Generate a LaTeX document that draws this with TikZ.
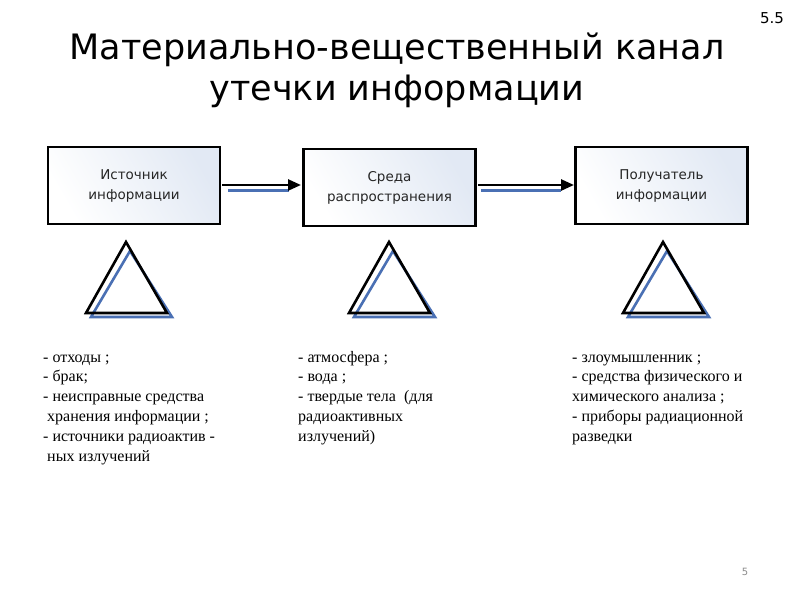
\documentclass[tikz,border=0pt]{standalone}
\usepackage{fontspec}
\setmainfont{Liberation Serif}
\newfontfamily\titlefont{DejaVu Sans}
\newfontfamily\boxfont{DejaVu Sans}
\usetikzlibrary{arrows.meta}
\definecolor{tblue}{HTML}{4A70B4}
\definecolor{lblue}{HTML}{E2E9F4}
\tikzset{
  box/.style={draw=black, line width=2.8pt, minimum width=172pt, minimum height=77pt,
    left color=white, right color=lblue, shading angle=120,
    font=\boxfont\fontsize{13.5}{20}\selectfont, align=center, text=black!85},
  arr/.style={line width=2.6pt, -{Triangle[length=13pt,width=11pt]}},
  barr/.style={line width=2.6pt, draw=tblue},
  tri/.style={line width=2.6pt, line join=miter},
  btri/.style={line width=2.6pt, draw=tblue, line join=miter},
  lst/.style={anchor=north west, align=left, font=\fontsize{16}{19.8}\selectfont, inner sep=0pt}
}
\begin{document}
\begin{tikzpicture}[x=1pt,y=-1pt]
\useasboundingbox (0,0) rectangle (800,600);
\fill[white] (0,0) rectangle (800,600);
% title
\node[font=\titlefont\fontsize{35}{41}\selectfont, align=center] (title) at (397,70)
  {Материально-вещественный канал\\утечки информации};
\node[font=\titlefont\fontsize{15}{18}\selectfont] (num) at (772,18) {5.5};
\node[font=\titlefont\fontsize{10}{12}\selectfont, text=black!45] (pg) at (745,572) {5};
% boxes
\node[box] (src) at (134,185.5) {Источник\\информации};
\node[box] (mid) at (389.5,187.5) {Среда\\распространения};
\node[box] (dst) at (661.5,185.5) {Получатель\\информации};
% arrows
\coordinate (a1) at (222,185);
\coordinate (a2) at (301,185);
\coordinate (b1) at (228,190.5);
\coordinate (b2) at (289,190.5);
\draw[barr] (b1) -- (b2);
\draw[arr] (a1) -- (a2);
\coordinate (a3) at (478,185);
\coordinate (a4) at (574,185);
\coordinate (b3) at (481,190.5);
\coordinate (b4) at (561,190.5);
\draw[barr] (b3) -- (b4);
\draw[arr] (a3) -- (a4);
% triangles
\foreach \cx in {126,389,663}{
  \draw[btri] (\cx+4,251) -- (\cx+46,317) -- (\cx-35,317) -- cycle;
  \draw[tri] (\cx,242) -- (\cx+41,313) -- (\cx-40,313) -- cycle;
}
% lists
\node[lst] (l1) at (43,348) {\strut- отходы ;\\- брак;\\- неисправные средства\\\ хранения информации ;\\- источники радиоактив -\\\ ных излучений};
\node[lst] (l2) at (298,348) {\strut- атмосфера ;\\- вода ;\\- твердые тела \ (для\\радиоактивных\\излучений)};
\node[lst] (l3) at (572,348) {\strut- злоумышленник ;\\- средства физического и\\химического анализа ;\\- приборы радиационной\\разведки};
\end{tikzpicture}
\end{document}
